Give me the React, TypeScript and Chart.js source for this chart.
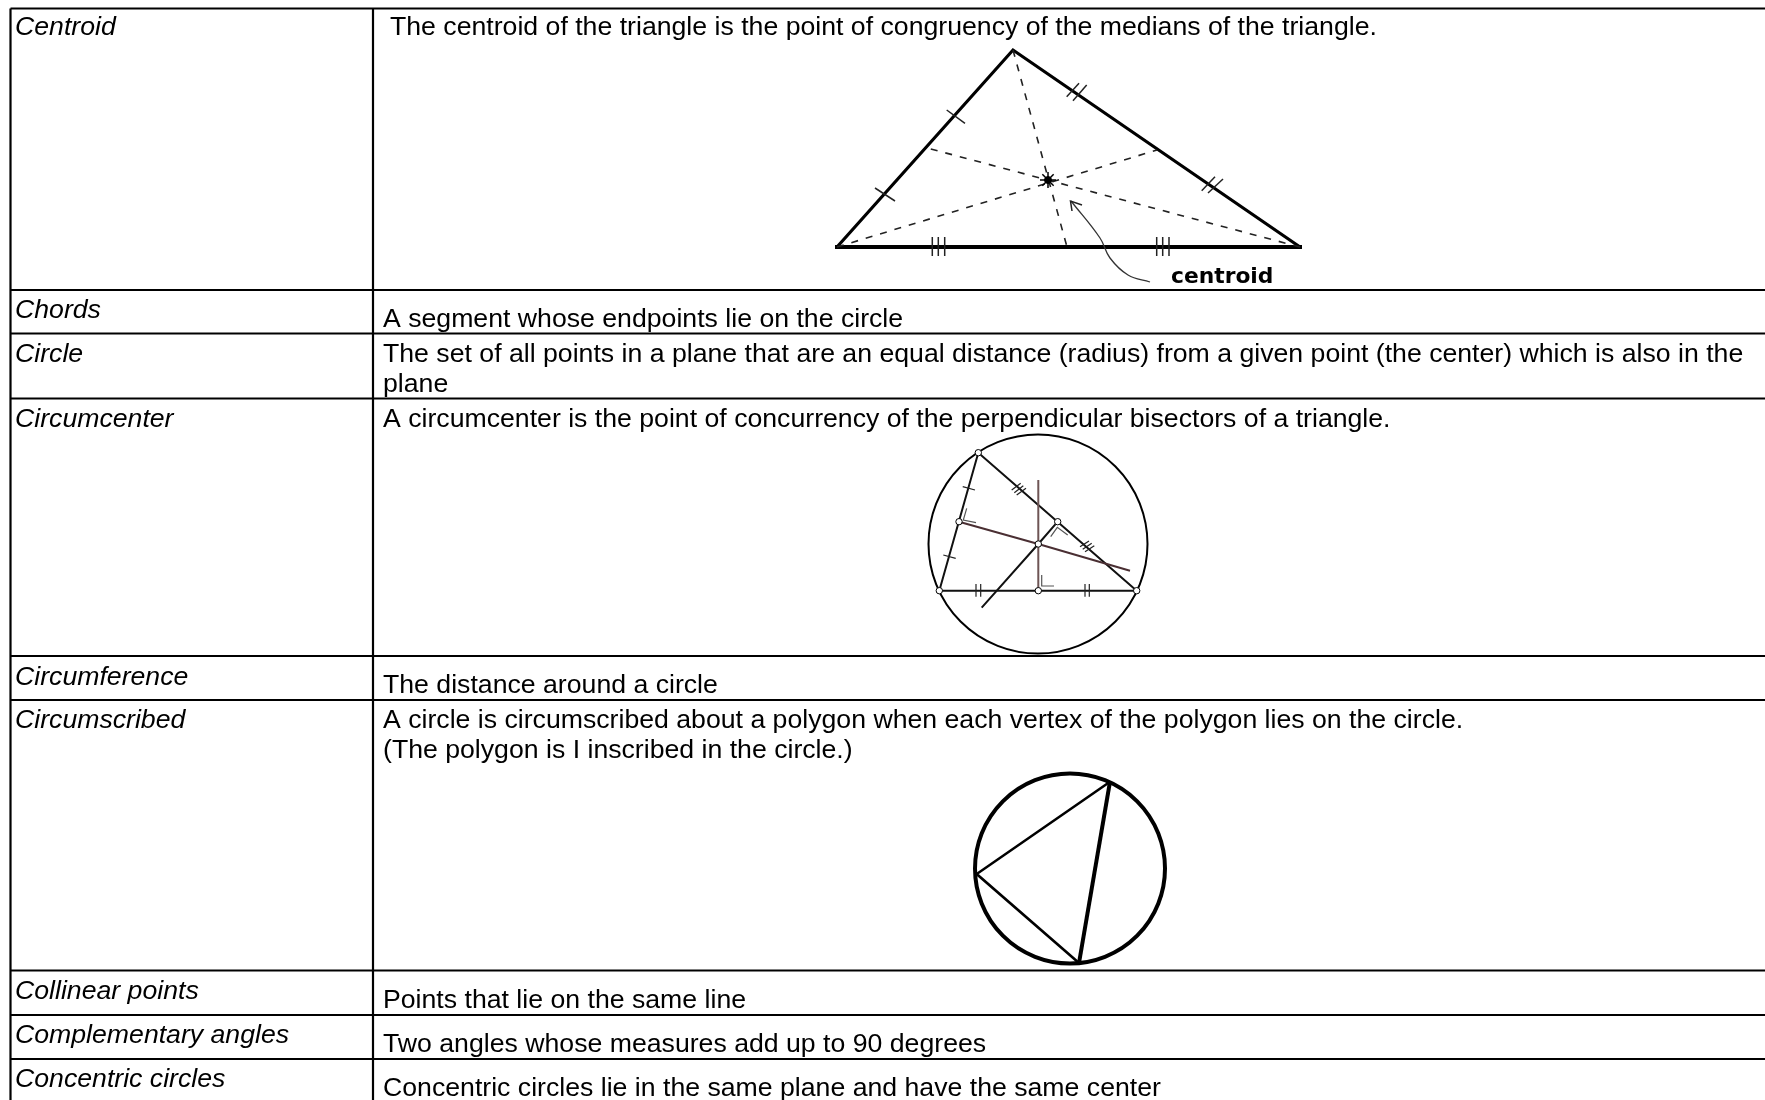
import React, { useEffect, useRef } from "react";
import { Chart, registerables } from "chart.js";

Chart.register(...registerables);

type P = [number, number];

// Table text
const terms = ["Centroid", "Chords", "Circle", "Circumcenter", "Circumference", "Circumscribed", "Collinear points", "Complementary angles", "Concentric circles"];
const termBaselines = [35, 318, 362, 427, 684.5, 728, 999, 1043, 1087];
const definitions = [
  "The centroid of the triangle is the point of congruency of the medians of the triangle.",
  "A segment whose endpoints lie on the circle",
  "The set of all points in a plane that are an equal distance (radius) from a given point (the center) which is also in the",
  "plane",
  "A circumcenter is the point of concurrency of the perpendicular bisectors of a triangle.",
  "The distance around a circle",
  "A circle is circumscribed about a polygon when each vertex of the polygon lies on the circle.",
  "(The polygon is I inscribed in the circle.)",
  "Points that lie on the same line",
  "Two angles whose measures add up to 90 degrees",
  "Concentric circles lie in the same plane and have the same center",
];
const definitionXs = [390, 383, 383, 383, 383, 383, 383, 383, 383, 383, 383];
const definitionBaselines = [35, 327, 362, 392, 427, 693, 728, 758, 1008, 1052, 1096];

// Table rules
const rowRules = [8.5, 290, 333.5, 398.5, 656, 700, 970.5, 1015, 1059];
const columnRules = [10.5, 373];

// Centroid figure
const centroidTriangle: P[] = [[837, 247], [1013, 50], [1300, 247]];
const centroidBase: P[] = [[835, 247], [1302, 247]];
const centroidMedians: P[][] = [
  [[1013, 50], [1067, 247]],
  [[837, 247], [1157, 150]],
  [[1300, 247], [927, 148]],
];
const centroidPoint: P[] = [[1048, 180]];
const centroidTicks: P[][] = [
  [[946.7, 110], [965, 123.3]], [[875, 188], [895, 201]],
  [[1066.7, 96.7], [1079, 83.3]], [[1073, 100.7], [1086.7, 85]],
  [[1201.7, 190.7], [1215, 176.7]], [[1208, 193], [1223, 179]],
  [[932.3, 237], [932.3, 256]], [[938.3, 237], [938.3, 256]], [[944.7, 237], [944.7, 256]],
  [[1156.7, 237], [1156.7, 256]], [[1162.7, 237], [1162.7, 256]], [[1169, 237], [1169, 256]],
];
const arrowCurve: P[] = [[1150, 282], [1128, 275], [1110, 258], [1100, 238], [1071, 201]];
const arrowHead: P[] = [[1082, 205], [1070.5, 201], [1072, 211]];
const centroidCaption = "centroid";

// Circumcenter figure
const circumCircle: P[] = [[1038, 544]];
const circumSides: P[][] = [
  [[978.3, 452.7], [939.3, 590.7], [1136.7, 590.7], [978.3, 452.7]],
];
const bisectorVertical: P[] = [[1038.3, 480], [1038.3, 590.7]];
const bisectorLeft: P[] = [[959, 521.7], [1038.3, 544], [1130, 570.7]];
const bisectorRight: P[] = [[1057.7, 521.7], [1038.3, 544], [981.7, 607.7]];
const circumTicks: P[][] = [
  [[962.7, 486.7], [975, 490]], [[943.3, 555], [955.7, 558.3]],
  [[1011.7, 490], [1020.7, 483.3]], [[1014.3, 492.7], [1023.3, 485.7]], [[1016.7, 495], [1026, 488.3]],
  [[1080, 546.7], [1089, 541]], [[1082.7, 549.3], [1091.7, 543.3]], [[1085, 551.7], [1094.3, 545.7]],
  [[976, 584], [976, 596.7]], [[980.7, 584], [980.7, 596.7]],
  [[1085, 584], [1085, 596.7]], [[1089.3, 584], [1089.3, 596.7]],
];
const rightAngles: P[][] = [
  [[1041.7, 575], [1041.7, 586], [1054, 586]],
  [[966.7, 508.3], [963.3, 520], [976, 522.7]],
  [[1050.7, 536.7], [1057.3, 527.3], [1067.7, 535]],
];
const circumVertices: P[] = [
  [978.3, 452.7], [939.3, 590.7], [1136.7, 590.7], [1038.3, 590.7],
  [959, 521.7], [1057.7, 521.7], [1038.3, 544],
];

// Circumscribed figure
const outerCircle: P[] = [[1070, 868.5]];
const thinChords: P[] = [[1110, 781.7], [976.7, 874], [1079, 963]];
const thickChord: P[] = [[1110, 781.7], [1079, 963]];

const pts = (a: P[]) => a.map(([x, y]) => ({ x, y }));
const line = (a: P[], borderColor: string, borderWidth: number, extra: object = {}) => ({
  data: pts(a), showLine: true, borderColor, borderWidth, pointRadius: 0, ...extra,
});
const marker = (a: P[], pointRadius: number, pointBorderWidth: number, pointBackgroundColor: string, pointStyle = "circle") => ({
  data: pts(a), showLine: false, pointRadius, pointBorderWidth, pointBackgroundColor,
  pointBorderColor: "#000", pointStyle,
});

const tablePlugin = {
  id: "tableText",
  afterDatasetsDraw(chart: any) {
    const { ctx, scales } = chart;
    const X = (v: number) => scales.x.getPixelForValue(v);
    const Y = (v: number) => scales.y.getPixelForValue(v);
    ctx.save();
    ctx.fillStyle = "#000";
    ctx.textBaseline = "alphabetic";
    ctx.textAlign = "left";
    ctx.font = 'italic 26.67px "Liberation Sans"';
    terms.forEach((t, i) => ctx.fillText(t, X(15), Y(termBaselines[i])));
    ctx.font = '26.67px "Liberation Sans"';
    definitions.forEach((t, i) => ctx.fillText(t, X(definitionXs[i]), Y(definitionBaselines[i])));
    ctx.font = 'bold 21.8px "DejaVu Sans"';
    ctx.fillText(centroidCaption, X(1171), Y(283));
    ctx.restore();
  },
};

export default function App() {
  const ref = useRef<HTMLCanvasElement>(null);
  useEffect(() => {
    const datasets: any[] = [
      ...rowRules.map((y) => line([[10.5, y], [1765, y]], "#000", 2.2)),
      ...columnRules.map((x) => line([[x, 8.5], [x, 1100]], "#000", 2.2)),

      line(centroidTriangle, "#000", 3.2),
      line(centroidBase, "#000", 4),
      ...centroidMedians.map((m) => line(m, "#222", 1.6, { borderDash: [7, 8] })),
      ...centroidTicks.map((t) => line(t, "#222", 1.5)),
      line(arrowCurve, "#333", 1.3, { tension: 0.4 }),
      line(arrowHead, "#222", 1.5),
      marker(centroidPoint, 8, 1.5, "#000", "star"),
      marker(centroidPoint, 3.5, 1, "#000"),

      marker(circumCircle, 109.5, 2, "transparent"),
      ...circumSides.map((s) => line(s, "#111", 2)),
      line(bisectorVertical, "#6e5555", 2),
      line(bisectorLeft, "#4a2f33", 2),
      line(bisectorRight, "#111", 2),
      ...circumTicks.map((t) => line(t, "#222", 1.2)),
      ...rightAngles.map((t) => line(t, "#555", 1.2)),
      marker(circumVertices, 3.2, 1, "#fff"),

      marker(outerCircle, 95, 4, "transparent"),
      line(thinChords, "#000", 2.6),
      line(thickChord, "#000", 4),
    ].reverse();
    const chart = new Chart(ref.current as HTMLCanvasElement, {
      type: "scatter",
      data: { datasets },
      options: {
        animation: false,
        responsive: false,
        layout: { padding: 0, autoPadding: false },
        plugins: { legend: { display: false }, tooltip: { enabled: false }, title: { display: false } },
        scales: {
          x: { type: "linear", min: 0, max: 1765, display: false },
          y: { type: "linear", min: 0, max: 1100, reverse: true, display: false },
        },
        elements: { line: { tension: 0 } },
      },
      plugins: [tablePlugin],
    } as any);
    return () => chart.destroy();
  }, []);
  return (
    <div style={{ position: "absolute", left: 0, top: 0, width: 1765, height: 1100, background: "#fff" }}>
      <canvas ref={ref} width={1765} height={1100} style={{ display: "block" }} />
    </div>
  );
}
